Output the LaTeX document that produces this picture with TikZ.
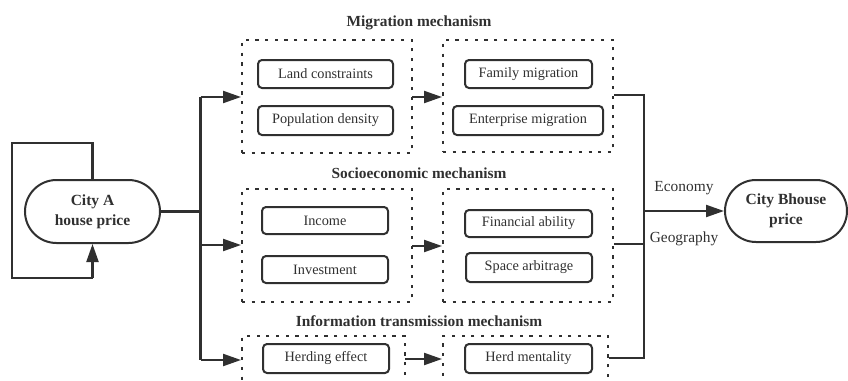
\documentclass[tikz,border=0pt]{standalone}
\usepackage{fontspec}
\setmainfont{Liberation Serif}
\usetikzlibrary{arrows.meta,shapes.misc}
\definecolor{ink}{HTML}{303030}
\begin{document}
\begin{tikzpicture}[x=1pt,y=-1pt,
  line/.style={draw=ink, line width=2.2pt},
  arr/.style={line, -{Triangle[length=18pt,width=12pt]}},
  item/.style={draw=ink, line width=2pt, rounded corners=4pt, inner sep=0pt, text=ink,
    font=\fontsize{14.3}{16}\selectfont},
  group/.style={draw=ink, line width=2pt, dash pattern=on 3.2pt off 6.5pt, inner sep=0pt},
  ttl/.style={font=\bfseries\fontsize{15.4}{18}\selectfont, text=ink},
  lbl/.style={font=\fontsize{15.4}{18}\selectfont, text=ink},
  city/.style={draw=ink, line width=2pt, rounded rectangle, align=center, text=ink, inner sep=0pt,
    font=\bfseries\fontsize{15.5}{20}\selectfont}
]
\useasboundingbox (0,0) rectangle (848,380);
\clip (0,0) rectangle (848,380);

% cities
\node[city, minimum width=135pt, minimum height=63pt] (cityA) at (92.5,211.5) {City A\\house price};
\node[city, minimum width=122pt, minimum height=62pt] (cityB) at (786,211) {City Bhouse\\price};

% titles
\node[ttl] (t1) at (419,23) {Migration mechanism};
\node[ttl] (t2) at (419,173) {Socioeconomic mechanism};
\node[ttl] (t3) at (419,321) {Information transmission mechanism};

% groups
\node[group, minimum width=170pt, minimum height=113pt] (mig1) at (327,96.5) {};
\node[group, minimum width=170pt, minimum height=112pt] (mig2) at (528,96) {};
\node[group, minimum width=170pt, minimum height=113pt] (soc1) at (327,245.5) {};
\node[group, minimum width=170pt, minimum height=113pt] (soc2) at (528,245.5) {};
\node[group, minimum width=163pt, minimum height=70pt] (inf1) at (323.5,371) {};
\node[group, minimum width=165pt, minimum height=70pt] (inf2) at (525.5,371) {};

% items
\node[item, minimum width=135pt, minimum height=28pt] (land) at (325.5,74) {Land constraints};
\node[item, minimum width=135pt, minimum height=29pt] (pop) at (325.5,120.5) {Population density};
\node[item, minimum width=127pt, minimum height=28pt] (fam) at (528.5,74) {Family migration};
\node[item, minimum width=150pt, minimum height=29pt] (ent) at (528,120.5) {Enterprise migration};
\node[item, minimum width=126pt, minimum height=27pt] (inc) at (325,220.5) {Income};
\node[item, minimum width=126pt, minimum height=27pt] (inv) at (325,269.5) {Investment};
\node[item, minimum width=127pt, minimum height=27pt] (fin) at (528.5,223.5) {Financial ability};
\node[item, minimum width=126pt, minimum height=29pt] (spa) at (529,267.5) {Space arbitrage};
\node[item, minimum width=126pt, minimum height=29pt] (herd) at (326,358.5) {Herding effect};
\node[item, minimum width=127pt, minimum height=29pt] (ment) at (528.5,358.5) {Herd mentality};

% labels
\node[lbl] (eco) at (684,188) {Economy};
\node[lbl] (geo) at (684,239) {Geography};

% feedback loop
\coordinate (fa) at (92.5,143);
\coordinate (fb) at (12,143);
\coordinate (fc) at (12,278);
\coordinate (fd) at (92.5,278);
\draw[line] (cityA.north) -- (fa) -- (fb) -- (fc) -- (fd);
\draw[arr] (fd) -- (cityA.south);

% left trunk
\coordinate (ta) at (200.5,97);
\coordinate (tm) at (200.5,245);
\coordinate (tb) at (200.5,360);
\draw[line] (cityA.east) -- (cityA.east -| ta);
\draw[line] (ta) -- (tb);
\draw[arr] (ta) -- (ta -| mig1.west);
\draw[arr] (tm) -- (tm -| soc1.west);
\draw[arr] (tb) -- (tb -| inf1.west);

% between groups
\coordinate (m1) at (412,97);
\coordinate (m2) at (412,246);
\coordinate (m3) at (405,359);
\draw[arr] (m1) -- (m1 -| mig2.west);
\draw[arr] (m2) -- (m2 -| soc2.west);
\draw[arr] (m3) -- (m3 -| inf2.west);

% right trunk
\coordinate (ra) at (644,95);
\coordinate (rm) at (644,244);
\coordinate (rb) at (644,358);
\coordinate (rc) at (644,211);
\draw[line] (ra -| mig2.east) -- (ra) -- (rb) -- (rb -| inf2.east);
\draw[line] (rm -| soc2.east) -- (rm);
\draw[arr] (rc) -- (cityB.west);
\end{tikzpicture}
\end{document}
